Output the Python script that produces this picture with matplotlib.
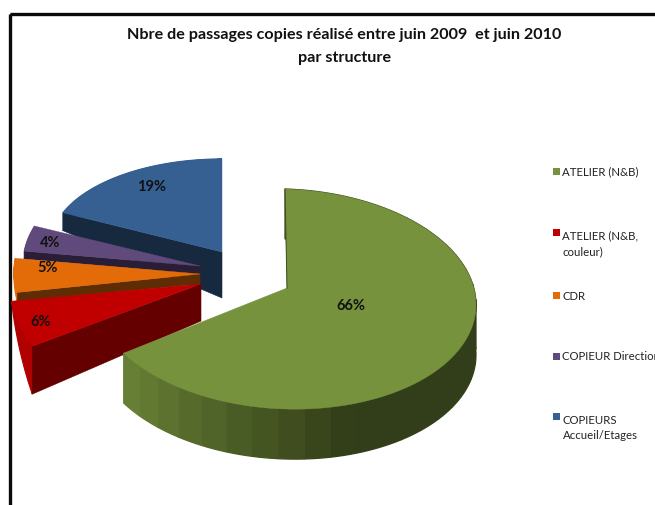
import numpy as np
import matplotlib
matplotlib.use("Agg")
import matplotlib.pyplot as plt
from matplotlib.patches import Polygon, Rectangle

title = "Nbre de passages copies réalisé entre juin 2009  et juin 2010\npar structure"
categories = ["ATELIER (N&B)", "ATELIER (N&B,\ncouleur)", "CDR", "COPIEUR Direction", "COPIEURS\nAccueil/Etages"]
values = [66, 6, 5, 4, 19]

# styling and layout (pixels in the reference frame)
top_colors = ["#76923c", "#c00000", "#e36c09", "#604a7b", "#376092"]
wall_colors = ["#6a8335", "#640000", "#5e2d04", "#2a1e36", "#17293f"]
arc_colors = ["#6a8335", "#b00000", "#e36c09", "#604a7b", "#376092"]
apex_x = [287, 201, 200, 200, 222]
apex_y = [289, 285, 275, 267, 253]
center_x = [285, 159, 200, 190, 222]
center_y = [300, 278, 273, 265, 245]
radius_x = [191, 150, 186, 167, 171]
radius_y = [110, 129, 109, 103, 85]
tilt = [0.03, 0, 0, 0, 0]
depth_apex = [50, 37, 10, 8, 46]
depth_start = [50, 48, 9, 8, 18]
depth_end = [50, 0, 0, 0, 0]
label_x = [351, 41, 48, 50, 152]
label_y = [306, 322, 268, 243, 187]
legend_y = [172, 244, 296, 357, 428]
draw_order = [4, 3, 2, 1, 0]

FONT = "Lato"
fig = plt.figure(figsize=(6.55, 5.06), dpi=100)
ax = fig.add_axes([0, 0, 1, 1])
ax.set_xlim(0, 655)
ax.set_ylim(506, 0)
ax.axis("off")

# chart frame
ax.add_patch(Rectangle((9.5, 14.5), 700, 600, fill=False, ec="#0a0a0a", lw=2.4))

total = sum(values)
edges = np.concatenate([[0], np.cumsum(values)]) / total * 2 * np.pi


def point(i, t):
    dx = radius_x[i] * np.sin(t)
    return center_x[i] + dx, center_y[i] - radius_y[i] * np.cos(t) + tilt[i] * dx


def shade(hex_color, f):
    return tuple(np.array(matplotlib.colors.to_rgb(hex_color)) * f)


for i in draw_order:
    t0, t1 = edges[i], edges[i + 1]
    ts = np.linspace(t0, t1, 121)
    xs, ys = point(i, ts)
    ds = np.linspace(depth_start[i], depth_end[i], len(ts))
    apex = (apex_x[i], apex_y[i])
    # outer wall, in facets
    n_f = 30 if i == 0 else 1
    idx = np.linspace(0, len(ts) - 1, n_f + 1).astype(int)
    for k in range(n_f):
        a, b = idx[k], idx[k + 1] + 1
        if i == 0:
            mid = (ts[a] + ts[min(b, len(ts) - 1)]) / 2
            f = 0.47 + 0.53 * np.clip((mid - np.radians(162)) / (t1 - np.radians(162)), 0, 1)
            c = shade(wall_colors[0], f)
        else:
            c = arc_colors[i]
        poly = list(zip(xs[a:b], ys[a:b])) + list(zip(xs[a:b][::-1], (ys + ds)[a:b][::-1]))
        ax.add_patch(Polygon(poly, fc=c, ec=c, lw=0.9))
    # radial wall on the clockwise-start edge (small slices only)
    if i != 0:
        ax.add_patch(Polygon([apex, (xs[0], ys[0]), (xs[0], ys[0] + ds[0]),
                              (apex[0], apex[1] + depth_apex[i])],
                             fc=wall_colors[i], ec=wall_colors[i], lw=0.4))
    # top face
    ax.add_patch(Polygon([apex] + list(zip(xs, ys)), fc=top_colors[i], ec=top_colors[i], lw=0.3))

for i in range(len(values)):
    ax.text(label_x[i], label_y[i], f"{round(values[i] / total * 100)}%", ha="center", va="center",
            fontsize=10.5, family=FONT, fontweight="bold", color="#111111")

# thin dark seam at the top of the large slice
tx, ty = point(0, 0)
ax.plot([tx, apex_x[0]], [ty, apex_y[0]], color="#3d4d1e", lw=0.7)

# title
ax.text(344.5, 46.5, title, ha="center", va="center", fontsize=11.6, family=FONT,
        fontweight="bold", color="#111111", linespacing=1.9)

# legend
for name, c, y in zip(categories, top_colors, legend_y):
    first_y = y - 10.5 if "\n" in name else y
    ax.add_patch(Rectangle((553, first_y - 3.5), 7, 7, fc=c, ec="none"))
    ax.text(562.5, y, name, ha="left", va="center", fontsize=8.2, family=FONT, color="#222222",
            linespacing=1.55, clip_on=True)

fig.savefig("out.png", dpi=100, facecolor="white")
